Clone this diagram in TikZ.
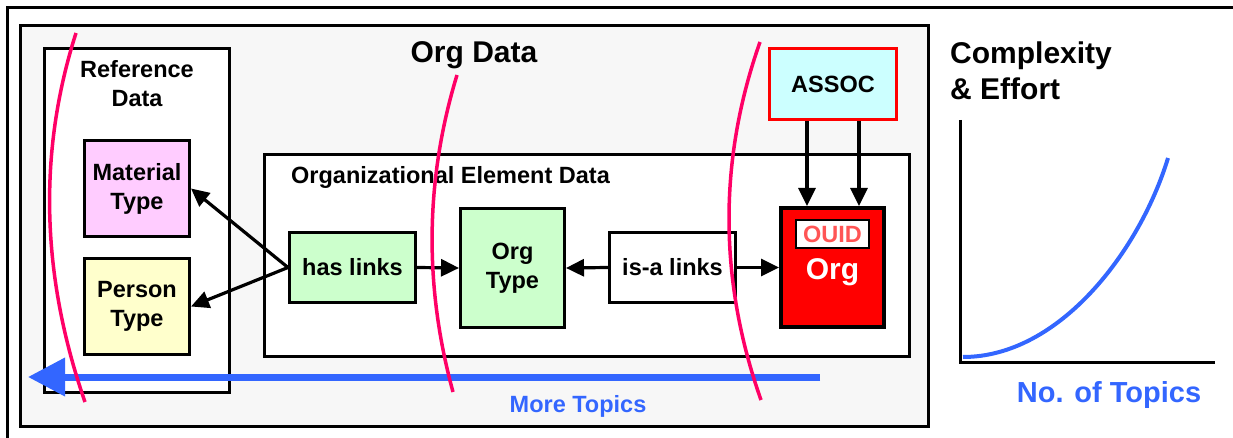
\documentclass[tikz,border=0pt]{standalone}
\usepackage{fontspec}
\setmainfont{Liberation Sans}
\usetikzlibrary{arrows.meta}
\definecolor{pinkc}{HTML}{FF0066}
\definecolor{bluec}{HTML}{3366FF}
\definecolor{greyc}{HTML}{F7F7F7}
\definecolor{matc}{HTML}{FFCCFF}
\definecolor{perc}{HTML}{FFFFCC}
\definecolor{greenc}{HTML}{CCFFCC}
\definecolor{cyanc}{HTML}{CCFFFF}
\definecolor{ouidc}{HTML}{FF5555}
\begin{document}
\begin{tikzpicture}[x=1pt,y=-1pt,
  lbl/.style={font=\fontsize{23.5}{29}\selectfont\bfseries, align=center},
  big/.style={font=\fontsize{30}{36}\selectfont\bfseries},
  box/.style={draw, line width=3pt, inner sep=0pt, lbl},
  arr/.style={line width=3.2pt, -{Triangle[length=18pt,width=17pt]}},
  pinkline/.style={draw=pinkc, line width=3.5pt},
]
\useasboundingbox (0,0) rectangle (1233,438);
% outer frame
\draw[line width=2.2pt] (7.5,440) -- (7.5,7.5) -- (1240,7.5);
% containers
\node[box, fill=greyc, minimum width=908, minimum height=401] (orgdata) at (474.5,226) {};
\node[box, fill=white, minimum width=185, minimum height=344] (refdata) at (137,220.5) {};
\node[box, fill=white, minimum width=645, minimum height=202] (oed) at (587,255.5) {};
% titles
\node[big, anchor=base] (orgdatalbl) at (474,63) {Org Data};
\node[lbl, anchor=base] (reflbl1) at (137,78) {Reference};
\node[lbl, anchor=base] (reflbl2) at (137,107) {Data};
\node[lbl, anchor=base west, inner sep=0pt] (oedlbl) at (291,184) {Organizational Element Data};
% boxes
\node[box, fill=matc, minimum width=105, minimum height=96] (mat) at (137,188.5) {Material\\Type};
\node[box, fill=perc, minimum width=105, minimum height=96] (per) at (137,306.5) {Person\\Type};
\node[box, fill=greenc, minimum width=126, minimum height=70] (has) at (352.5,267.5) {has links};
\node[box, fill=greenc, minimum width=104, minimum height=119] (otype) at (512.5,268) {Org\\Type};
\node[box, fill=white, minimum width=126, minimum height=70] (isa) at (672.5,267.5) {is-a links};
\node[box, fill=red, line width=4pt, minimum width=103, minimum height=119] (org) at (832.5,267.5) {};
\node[box, fill=white, line width=2.5pt, text=ouidc, minimum width=73, minimum height=28] (ouid) at (832.5,234) {OUID};
\node[big, text=white, anchor=base] (orglbl) at (832.5,279) {Org};
\node[box, fill=cyanc, draw=red, minimum width=127, minimum height=71] (assoc) at (833,84) {ASSOC};
% connectors
\draw[arr] (has.west) -- (mat.east);
\draw[arr] (has.west) -- (per.east);
\draw[arr] (has.east) -- (otype.west);
\draw[arr] (isa.west) -- (otype.east);
\draw[arr] (isa.east) -- (org.west);
\draw[arr] ([xshift=-26pt]assoc.south) -- ([xshift=-26pt]assoc.south |- org.north);
\draw[arr] ([xshift=26pt]assoc.south) -- ([xshift=26pt]assoc.south |- org.north);
% blue arrow
\coordinate (bstart) at (820,377);
\coordinate (bend) at (28,377);
\draw[bluec, line width=7pt, -{Triangle[length=37pt,width=37pt]}] (bstart) -- (bend);
\node[lbl, text=bluec, anchor=base] (more) at (578,412) {More Topics};
% pink curves
\draw[pinkline] (76,33) .. controls (38,152) and (41,275) .. (85,402);
\draw[pinkline] (457,75) .. controls (425,180) and (424,286) .. (453,392);
\draw[pinkline] (760,42) .. controls (718,161) and (719,281) .. (761,400);
% chart
\node[big, anchor=base west, inner sep=0pt] (cx1) at (950,64) {Complexity};
\node[big, anchor=base west, inner sep=0pt] (cx2) at (950,100) {\& Effort};
\draw[line width=3pt] (960,120) -- (960,362) -- (1215,362);
\draw[bluec, line width=4pt] (963,357) .. controls (1060,357) and (1140,250) .. (1168,158);
\node[font=\fontsize{29}{34}\selectfont\bfseries, text=bluec, anchor=base] (topics) at (1109,402) {No. of Topics};
\end{tikzpicture}
\end{document}
